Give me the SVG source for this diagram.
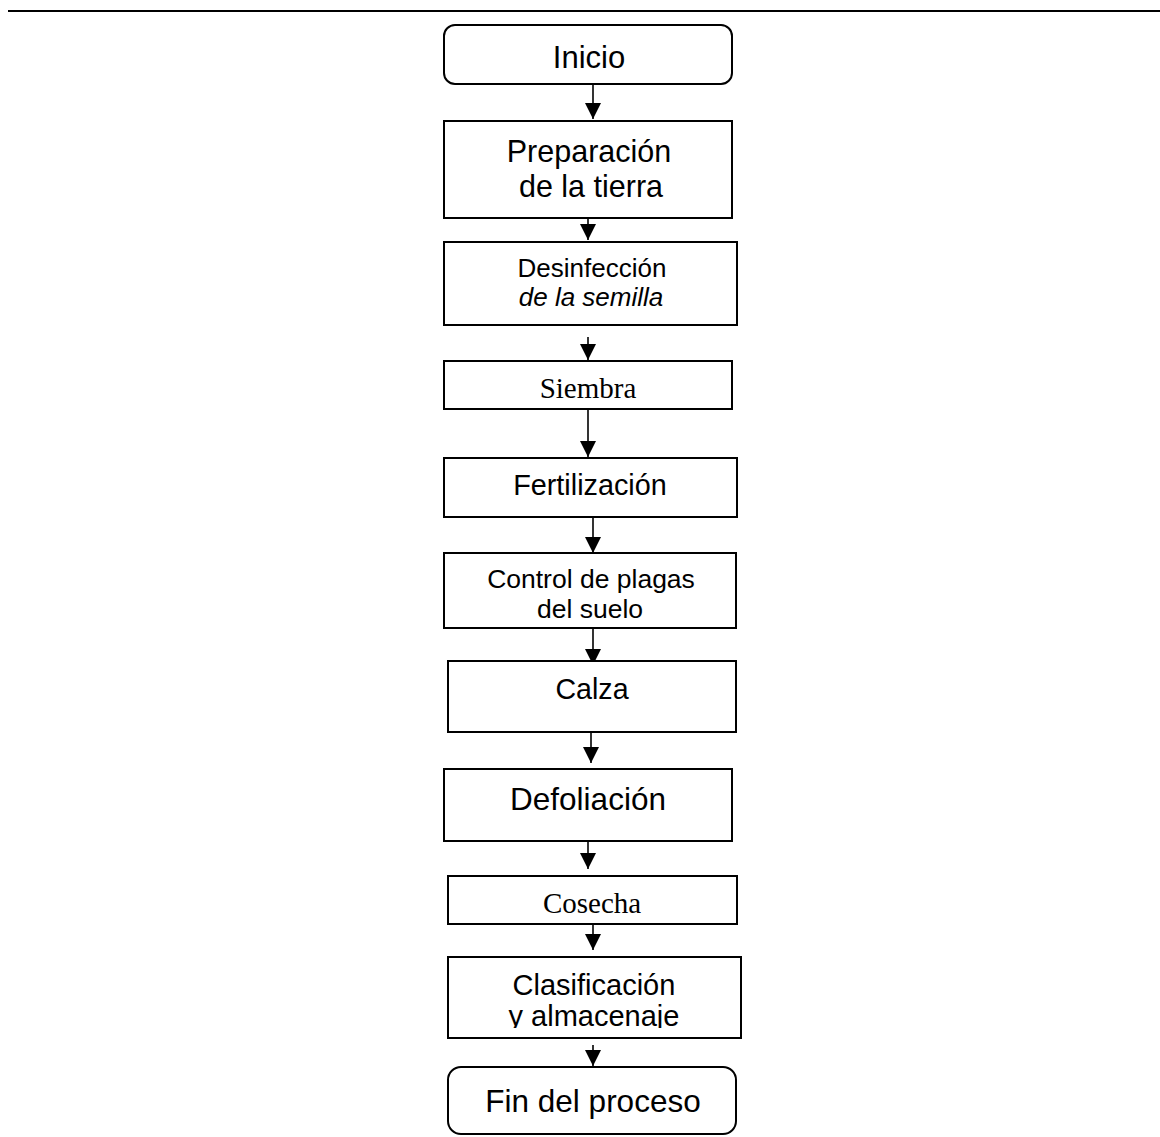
<svg xmlns="http://www.w3.org/2000/svg" width="1160" height="1137" viewBox="0 0 1160 1137">
<style>
.box{fill:#fff;stroke:#000;stroke-width:2}
.t{font-family:"Liberation Sans",Arial,sans-serif;fill:#000;text-anchor:middle}
.s{font-family:"Liberation Serif","Times New Roman",serif;fill:#000;text-anchor:middle}
.c{stroke:#000;stroke-width:1.6;fill:none;marker-end:url(#ah)}
</style>
<defs>
<marker id="ah" markerUnits="userSpaceOnUse" markerWidth="16" markerHeight="18" refX="16" refY="8" orient="auto" viewBox="0 0 16 16">
<path d="M0,0 L16,8 L0,16 Z" fill="#000"/>
</marker>
<clipPath id="clipClas"><rect x="448" y="957" width="293" height="71"/></clipPath>
</defs>
<rect width="1160" height="1137" fill="#fff"/>
<line x1="8" y1="11" x2="1160" y2="11" stroke="#000" stroke-width="2.2"/>
<g id="connectors">
<line class="c" x1="593" y1="84" x2="593" y2="119"/>
<line class="c" x1="588" y1="218" x2="588" y2="240"/>
<line class="c" x1="588" y1="337" x2="588" y2="360"/>
<line class="c" x1="588" y1="409" x2="588" y2="457"/>
<line class="c" x1="593" y1="517" x2="593" y2="553"/>
<line class="c" x1="593" y1="628" x2="593" y2="665"/>
<line class="c" x1="591" y1="732" x2="591" y2="763"/>
<line class="c" x1="588" y1="841" x2="588" y2="869"/>
<line class="c" x1="593" y1="924" x2="593" y2="950"/>
<line class="c" x1="593" y1="1045" x2="593" y2="1066"/>
</g>
<g id="n-inicio">
<rect class="box" x="444" y="25" width="288" height="59" rx="11"/>
<text class="t" x="589" y="68" font-size="31">Inicio</text>
</g>
<g id="n-preparacion">
<rect class="box" x="444" y="121" width="288" height="97"/>
<text class="t" x="589" y="162" font-size="30.5">Preparación</text>
<text class="t" x="591" y="197" font-size="30.5">de la tierra</text>
</g>
<g id="n-desinfeccion">
<rect class="box" x="444" y="242" width="293" height="83"/>
<text class="t" x="592" y="277" font-size="26">Desinfección</text>
<text class="t" x="591" y="306" font-size="26" font-style="italic">de la semilla</text>
</g>
<g id="n-siembra">
<rect class="box" x="444" y="361" width="288" height="48"/>
<text class="s" x="588" y="398" font-size="29">Siembra</text>
</g>
<g id="n-fertilizacion">
<rect class="box" x="444" y="458" width="293" height="59"/>
<text class="t" x="590" y="495" font-size="28.8">Fertilización</text>
</g>
<g id="n-control">
<rect class="box" x="444" y="553" width="292" height="75"/>
<text class="t" x="591" y="588" font-size="26.5">Control de plagas</text>
<text class="t" x="590" y="618" font-size="26.5">del suelo</text>
</g>
<g id="n-calza">
<rect class="box" x="448" y="661" width="288" height="71"/>
<text class="t" x="592" y="699" font-size="28.6">Calza</text>
</g>
<g id="n-defoliacion">
<rect class="box" x="444" y="769" width="288" height="72"/>
<text class="t" x="588" y="810" font-size="31.5">Defoliación</text>
</g>
<g id="n-cosecha">
<rect class="box" x="448" y="876" width="289" height="48"/>
<text class="s" x="592" y="913" font-size="29">Cosecha</text>
</g>
<g id="n-clasificacion">
<rect class="box" x="448" y="957" width="293" height="81"/>
<g clip-path="url(#clipClas)">
<text class="t" x="594" y="995" font-size="29">Clasificación</text>
<text class="t" x="594" y="1026" font-size="29">y almacenaje</text>
</g>
</g>
<g id="n-fin">
<rect class="box" x="448" y="1067" width="288" height="67" rx="13"/>
<text class="t" x="593" y="1112" font-size="31.5">Fin del proceso</text>
</g>
</svg>
